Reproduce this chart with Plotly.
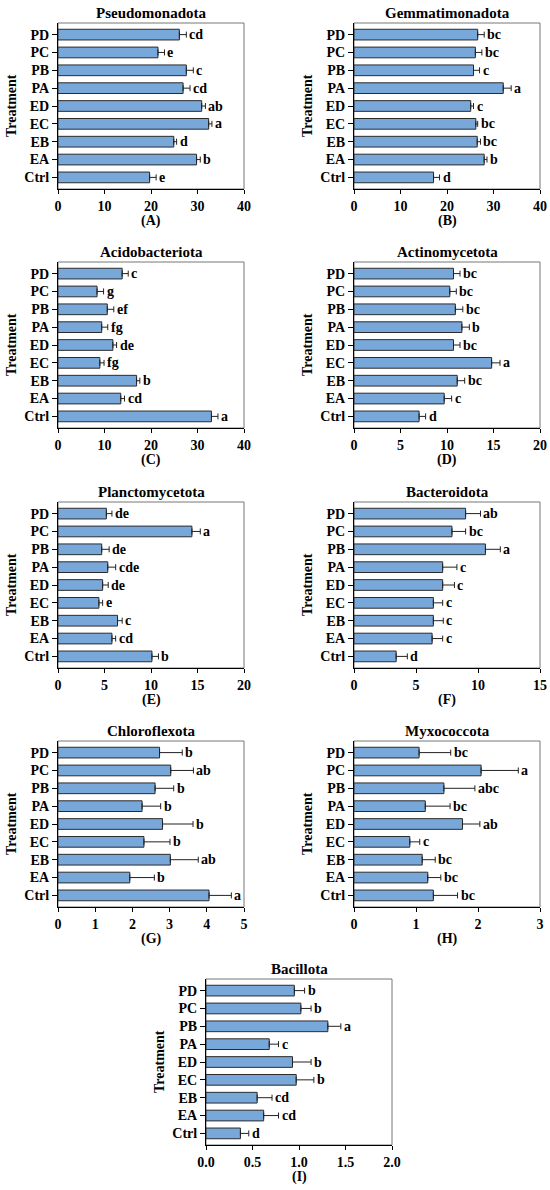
import plotly.graph_objects as go

treatments = ['Ctrl', 'EA', 'EB', 'EC', 'ED', 'PA', 'PB', 'PC', 'PD']

pseudomonadota = [19.7, 29.8, 24.9, 32.4, 30.9, 26.9, 27.6, 21.5, 26.1]
pseudomonadota_err = [1.4, 0.8, 0.6, 0.7, 0.8, 1.5, 1.5, 1.4, 1.5]
pseudomonadota_sig = ['e', 'b', 'd', 'a', 'ab', 'cd', 'c', 'e', 'cd']

gemmatimonadota = [17.1, 28.0, 26.5, 26.2, 25.1, 32.1, 25.7, 26.1, 26.6]
gemmatimonadota_err = [1.3, 0.6, 0.7, 0.4, 0.6, 1.7, 1.3, 1.4, 1.4]
gemmatimonadota_sig = ['d', 'b', 'bc', 'bc', 'c', 'a', 'c', 'bc', 'bc']

acidobacteriota = [33.0, 13.5, 16.9, 9.0, 11.8, 9.4, 10.6, 8.4, 13.8]
acidobacteriota_err = [1.4, 0.8, 0.7, 0.9, 0.8, 1.3, 1.4, 1.4, 1.3]
acidobacteriota_sig = ['a', 'cd', 'b', 'fg', 'de', 'fg', 'ef', 'g', 'c']

actinomycetota = [7.0, 9.7, 11.1, 14.8, 10.7, 11.6, 10.9, 10.3, 10.7]
actinomycetota_err = [0.7, 0.8, 0.8, 0.9, 0.7, 0.8, 0.8, 0.7, 0.7]
actinomycetota_sig = ['d', 'c', 'bc', 'a', 'bc', 'b', 'bc', 'bc', 'bc']

planctomycetota = [10.1, 5.8, 6.4, 4.4, 4.8, 5.35, 4.7, 14.4, 5.2]
planctomycetota_err = [0.7, 0.4, 0.5, 0.4, 0.6, 0.85, 0.8, 0.9, 0.6]
planctomycetota_sig = ['b', 'cd', 'c', 'e', 'de', 'cde', 'de', 'a', 'de']

bacteroidota = [3.4, 6.3, 6.4, 6.4, 7.15, 7.15, 10.6, 7.9, 9.0]
bacteroidota_err = [0.9, 0.85, 0.8, 0.75, 0.95, 1.15, 1.2, 1.1, 1.2]
bacteroidota_sig = ['d', 'c', 'c', 'c', 'c', 'c', 'a', 'bc', 'ab']

chloroflexota = [4.06, 1.93, 3.02, 2.31, 2.81, 2.26, 2.61, 3.03, 2.73]
chloroflexota_err = [0.6, 0.66, 0.75, 0.7, 0.82, 0.5, 0.5, 0.61, 0.61]
chloroflexota_sig = ['a', 'b', 'ab', 'b', 'b', 'b', 'b', 'ab', 'b']

myxococcota = [1.28, 1.19, 1.10, 0.90, 1.75, 1.15, 1.45, 2.05, 1.05]
myxococcota_err = [0.39, 0.21, 0.21, 0.16, 0.28, 0.40, 0.50, 0.60, 0.51]
myxococcota_sig = ['bc', 'bc', 'bc', 'c', 'ab', 'bc', 'abc', 'a', 'bc']

bacillota = [0.37, 0.62, 0.55, 0.97, 0.93, 0.68, 1.31, 1.02, 0.95]
bacillota_err = [0.09, 0.16, 0.16, 0.19, 0.20, 0.10, 0.14, 0.11, 0.11]
bacillota_sig = ['d', 'cd', 'cd', 'b', 'b', 'c', 'a', 'b', 'b']

W, H = 550, 1190
FONT = 'Liberation Serif'
bold = dict(family=FONT, size=14, color='black', weight='bold')

# name, values, errors, letters, x max, dtick, tick format, label, left px, top px
panels = [
    ('Pseudomonadota', pseudomonadota, pseudomonadota_err, pseudomonadota_sig, 40, 10, '', '(A)', 58, 23),
    ('Gemmatimonadota', gemmatimonadota, gemmatimonadota_err, gemmatimonadota_sig, 40, 10, '', '(B)', 354, 23),
    ('Acidobacteriota', acidobacteriota, acidobacteriota_err, acidobacteriota_sig, 40, 10, '', '(C)', 58, 262),
    ('Actinomycetota', actinomycetota, actinomycetota_err, actinomycetota_sig, 20, 5, '', '(D)', 354, 262),
    ('Planctomycetota', planctomycetota, planctomycetota_err, planctomycetota_sig, 20, 5, '', '(E)', 58, 502),
    ('Bacteroidota', bacteroidota, bacteroidota_err, bacteroidota_sig, 15, 5, '', '(F)', 354, 502),
    ('Chloroflexota', chloroflexota, chloroflexota_err, chloroflexota_sig, 5, 1, '', '(G)', 58, 741),
    ('Myxococcota', myxococcota, myxococcota_err, myxococcota_sig, 3, 1, '', '(H)', 354, 741),
    ('Bacillota', bacillota, bacillota_err, bacillota_sig, 2, 0.5, '.1f', '(I)', 206, 979),
]
PW, PH = 186, 166

fig = go.Figure()
annotations = []
shapes = []

for i, (name, vals, errs, sig, xmax, dt, fmt, lab, left, top) in enumerate(panels):
    n = '' if i == 0 else str(i + 1)
    xa, ya = 'x' + n, 'y' + n
    x0, x1 = left / W, (left + PW) / W
    y0, y1 = 1 - (top + PH) / H, 1 - top / H

    fig.add_trace(go.Bar(
        x=vals, y=treatments, orientation='h', xaxis=xa, yaxis=ya,
        width=0.6, marker=dict(color='#78a7da', line=dict(color='#2b2b2b', width=1)),
        error_x=dict(type='data', array=errs, arrayminus=[0] * len(errs), symmetric=False,
                     color='#222222', thickness=1, width=3),
        showlegend=False,
    ))

    fig.layout['xaxis' + n] = dict(
        domain=[x0, x1], anchor=ya, range=[0, xmax], dtick=dt, tick0=0, tickformat=fmt,
        showline=True, linecolor='black', linewidth=1, ticks='outside', ticklen=4,
        tickcolor='black', showgrid=False, zeroline=False, automargin=False,
        tickfont=bold, fixedrange=True,
    )
    fig.layout['yaxis' + n] = dict(
        domain=[y0, y1], anchor=xa, range=[-0.65, 8.65], type='category',
        categoryorder='array', categoryarray=treatments,
        showline=True, linecolor='black', linewidth=1, ticks='outside', ticklen=5,
        tickcolor='black', showgrid=False, zeroline=False, automargin=False,
        tickfont=bold, fixedrange=True,
    )

    shapes.append(dict(type='rect', xref='paper', yref='paper', x0=x0, x1=x1, y0=y0, y1=y1,
                       line=dict(color='#777777', width=1), layer='below'))

    annotations.append(dict(text='<b>' + name + '</b>', xref='paper', yref='paper',
                            x=(x0 + x1) / 2, y=y1, yshift=0, xanchor='center', yanchor='bottom',
                            showarrow=False, font=dict(family=FONT, size=15, color='black')))
    annotations.append(dict(text='<b>' + lab + '</b>', xref='paper', yref='paper',
                            x=(x0 + x1) / 2, y=y0, yshift=-32, xanchor='center', yanchor='middle',
                            showarrow=False, font=dict(family=FONT, size=14, color='black')))
    annotations.append(dict(text='<b>Treatment</b>', xref='paper', yref='paper',
                            x=(left - 47) / W, y=(y0 + y1) / 2, xanchor='center', yanchor='middle',
                            textangle=-90, showarrow=False,
                            font=dict(family=FONT, size=14, color='black')))
    for t, v, e, s in zip(treatments, vals, errs, sig):
        annotations.append(dict(text='<b>' + s + '</b>', xref=xa, yref=ya, x=v + e, y=t,
                                xshift=1, xanchor='left', yanchor='middle', showarrow=False,
                                font=dict(family=FONT, size=14, color='black')))

fig.update_layout(
    width=W, height=H, margin=dict(l=0, r=0, t=0, b=0, autoexpand=False),
    paper_bgcolor='white', plot_bgcolor='white', template='none',
    annotations=annotations, shapes=shapes, bargap=0.4,
)

# drop the browser's default body margin so the figure sits at the page corner
fig.write_html("out.html", config={'displayModeBar': False},
               post_script="document.body.style.margin='0';")
